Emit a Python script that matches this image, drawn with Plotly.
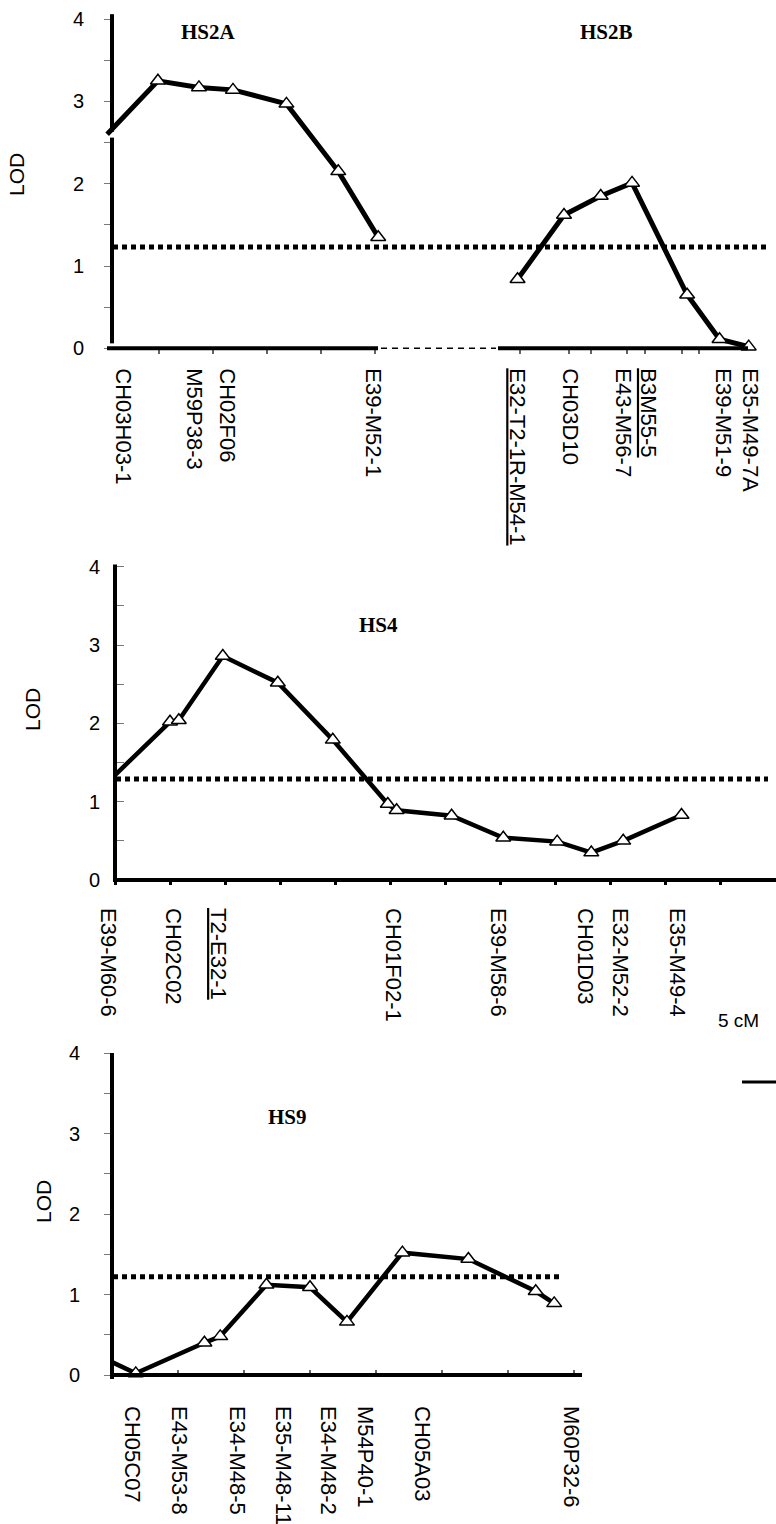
import plotly.graph_objects as go

W, H = 776, 1524

# ---------------- data (positions in cM, LOD scores) ----------------
# Top panel: HS2A and HS2B
hs2a_pos = [0.2, 4.9, 8.7, 11.85, 16.8, 21.6, 25.3]
hs2a_lod = [2.60, 3.25, 3.17, 3.14, 2.97, 2.15, 1.35]
hs2b_pos = [38.2, 42.5, 45.9, 48.8, 53.9, 56.9, 59.6]
hs2b_lod = [0.84, 1.62, 1.85, 2.01, 0.65, 0.11, 0.02]
top_marker_pos = [1.7, 8.3, 11.3, 24.8, 38.2, 43.1, 48.0, 50.3, 57.2, 59.7]
top_marker_names = ["CH03H03-1", "M59P38-3", "CH02F06", "E39-M52-1",
                    "E32-T2-1R-M54-1", "CH03D10", "E43-M56-7", "B3M55-5",
                    "E39-M51-9", "E35-M49-7A"]
top_threshold = 1.23

# Middle panel: HS4
hs4_pos = [0.0, 5.0, 5.8, 9.8, 14.8, 19.8, 24.8, 25.6, 30.6, 35.3, 40.2, 43.3, 46.2, 51.5]
hs4_lod = [1.34, 2.02, 2.04, 2.86, 2.52, 1.79, 0.97, 0.89, 0.82, 0.54, 0.49, 0.35, 0.50, 0.83]
mid_marker_pos = [-0.6, 5.3, 9.4, 25.3, 34.8, 42.7, 45.9, 51.1]
mid_marker_names = ["E39-M60-6", "CH02C02", "T2-E32-1", "CH01F02-1",
                    "E39-M58-6", "CH01D03", "E32-M52-2", "E35-M49-4"]
mid_threshold = 1.29

# Bottom panel: HS9
hs9_pos = [0.0, 1.8, 7.0, 8.2, 11.7, 15.0, 17.8, 22.0, 27.0, 32.1, 33.5]
hs9_lod = [0.16, 0.02, 0.40, 0.48, 1.12, 1.09, 0.66, 1.52, 1.44, 1.04, 0.89]
bot_marker_pos = [1.5, 5.1, 9.5, 13.0, 16.4, 19.2, 23.5, 34.8]
bot_marker_names = ["CH05C07", "E43-M53-8", "E34-M48-5", "E35-M48-11",
                    "E34-M48-2", "M54P40-1", "CH05A03", "M60P32-6"]
bot_threshold = 1.22

underlined = ["E32-T2-1R-M54-1", "B3M55-5", "T2-E32-1"]
lod_ticks = [0, 1, 2, 3, 4]

# ---------------- layout geometry (pixels) ----------------
panels = {
    "top": dict(x0px=105, s=10.8, y0px=348.3, ppu=82.3, rows=(5, 362), yax_px=112,
                lab_off=19, ylab_stand=16, yticks="outside", xticks="outside"),
    "mid": dict(x0px=115, s=11.0, y0px=880, ppu=78.3, rows=(548, 897), yax_px=115,
                lab_off=27, ylab_stand=15, yticks="inside", xticks="outside"),
    "bot": dict(x0px=112, s=13.2, y0px=1375, ppu=80.5, rows=(1040, 1392), yax_px=112,
                lab_off=30, ylab_stand=20, yticks="outside", xticks="inside"),
}

SANS = "Liberation Sans, Arial, sans-serif"
SERIF = "Liberation Serif, Times New Roman, serif"


def px2x(p):
    return p / W


def px2y(p):
    return 1 - p / H


def fmt(name):
    if name in underlined:
        return '<span style="text-decoration:underline">' + name + '</span>'
    return name


fig = go.Figure()

axis_ids = {"top": ("x", "y", "", ""), "mid": ("x2", "y2", "2", "2"), "bot": ("x3", "y3", "3", "3")}

# (positions, lods, index of first point drawn with a marker)
curves = {
    "top": [(hs2a_pos, hs2a_lod, 1), (hs2b_pos, hs2b_lod, 0)],
    "mid": [(hs4_pos, hs4_lod, 1)],
    "bot": [(hs9_pos, hs9_lod, 1)],
}
labels = {
    "top": (top_marker_pos, top_marker_names),
    "mid": (mid_marker_pos, mid_marker_names),
    "bot": (bot_marker_pos, bot_marker_names),
}
minor_x = {
    "top": [5, 10, 15, 20, 25, 38.4, 43, 45, 48.3, 50, 53.4, 55],
    "mid": [0, 5, 10, 15, 20, 25, 30, 35, 40, 45, 50, 55],
    "bot": [5, 10, 15, 20, 25, 30, 35],
}
line_w = {"top": 5, "mid": 4.5, "bot": 4.5}

shapes = []
layout_axes = {}

for key, g in panels.items():
    xa, ya, xs, ys = axis_ids[key]
    r0, r1 = g["rows"]
    xr = [(0 - g["x0px"]) / g["s"], (W - g["x0px"]) / g["s"]]
    yr = [(g["y0px"] - r1) / g["ppu"], (g["y0px"] - r0) / g["ppu"]]
    for pos, lod, first in curves[key]:
        fig.add_trace(go.Scatter(x=pos, y=lod, xaxis=xa, yaxis=ya, mode="lines",
                                 line=dict(color="black", width=line_w[key]),
                                 showlegend=False, hoverinfo="skip"))
        fig.add_trace(go.Scatter(x=pos[first:], y=lod[first:], xaxis=xa, yaxis=ya, mode="markers",
                                 marker=dict(symbol="triangle-up", size=13, color="white",
                                             line=dict(color="black", width=1.5)),
                                 cliponaxis=False, showlegend=False))
    pos, names = labels[key]
    layout_axes["xaxis" + xs] = dict(
        domain=[0, 1], range=xr, anchor="free", position=px2y(g["y0px"]),
        showgrid=False, zeroline=False, showline=False,
        tickmode="array", tickvals=pos, ticktext=[fmt(n) for n in names],
        ticks="", ticklen=0, tickangle=90, ticklabelstandoff=g["lab_off"],
        tickfont=dict(family=SANS, size=22, color="black"),
        minor=dict(tickmode="array", tickvals=minor_x[key], ticks=g["xticks"],
                   ticklen=5 if key != "mid" else 4, tickwidth=1.5 if key != "mid" else 3,
                   tickcolor="#666" if key != "mid" else "black", showgrid=False),
        automargin=False, fixedrange=True,
    )
    layout_axes["yaxis" + ys] = dict(
        domain=[px2y(r1), px2y(r0)], range=yr, anchor="free", position=px2x(g["yax_px"]),
        side="left", showgrid=False, zeroline=False, showline=False,
        tickmode="array", tickvals=lod_ticks, ticks=g["yticks"], ticklen=8,
        tickwidth=1, tickcolor="#777", ticklabelstandoff=g["ylab_stand"],
        tickfont=dict(family=SANS, size=20, color="black"),
        minor=dict(tickmode="array", tickvals=[0.5, 1.5, 2.5, 3.5], ticks=g["yticks"],
                   ticklen=8, tickwidth=1, tickcolor="#777", showgrid=False),
        automargin=False, fixedrange=True,
    )

blk = "black"
# Ruler (x axis) lines
shapes += [
    dict(type="line", xref="paper", yref="y", x0=px2x(107), x1=px2x(378), y0=0, y1=0,
         line=dict(color=blk, width=4)),
    dict(type="line", xref="paper", yref="y", x0=px2x(381), x1=px2x(496), y0=0, y1=0,
         line=dict(color=blk, width=1.5, dash="6px,5px")),
    dict(type="line", xref="paper", yref="y", x0=px2x(498), x1=px2x(748), y0=0, y1=0,
         line=dict(color=blk, width=4)),
    dict(type="line", xref="paper", yref="y2", x0=px2x(113), x1=px2x(776), y0=0, y1=0,
         line=dict(color=blk, width=4)),
    dict(type="line", xref="paper", yref="y3", x0=px2x(110), x1=px2x(582), y0=0, y1=0,
         line=dict(color=blk, width=4)),
]
# Vertical LOD axis lines
shapes += [
    dict(type="line", xref="paper", yref="y", x0=px2x(112), x1=px2x(112), y0=4.06, y1=2.63,
         line=dict(color=blk, width=4)),
    dict(type="line", xref="paper", yref="y", x0=px2x(112), x1=px2x(112), y0=2.56, y1=0.06,
         line=dict(color=blk, width=4)),
    dict(type="line", xref="paper", yref="y2", x0=px2x(115), x1=px2x(115), y0=4.03, y1=-0.02,
         line=dict(color=blk, width=4)),
    dict(type="line", xref="paper", yref="y3", x0=px2x(112), x1=px2x(112), y0=4.0, y1=-0.05,
         line=dict(color=blk, width=4)),
]
# Significance thresholds (dotted)
shapes += [
    dict(type="line", xref="paper", yref="y", x0=px2x(113), x1=px2x(767),
         y0=top_threshold, y1=top_threshold, line=dict(color=blk, width=5, dash="5px,4px")),
    dict(type="line", xref="paper", yref="y2", x0=px2x(116), x1=px2x(768),
         y0=mid_threshold, y1=mid_threshold, line=dict(color=blk, width=5, dash="5px,4px")),
    dict(type="line", xref="paper", yref="y3", x0=px2x(113), x1=px2x(561),
         y0=bot_threshold, y1=bot_threshold, line=dict(color=blk, width=5, dash="5px,4px")),
]
# 5 cM scale bar
shapes.append(dict(type="line", xref="paper", yref="paper", x0=px2x(742), x1=px2x(776),
                   y0=px2y(1082), y1=px2y(1082), line=dict(color=blk, width=3)))

ann = []
for txt, x, y in [("HS2A", 208, 32), ("HS2B", 606, 32), ("HS4", 378, 625), ("HS9", 287, 1117)]:
    ann.append(dict(text="<b>" + txt + "</b>", x=px2x(x), y=px2y(y), xref="paper", yref="paper",
                    showarrow=False, xanchor="center", yanchor="middle",
                    font=dict(family=SERIF, size=21, color="black")))
for x, y in [(17, 175), (32, 710), (43, 1202)]:
    ann.append(dict(text="LOD", x=px2x(x), y=px2y(y), xref="paper", yref="paper",
                    showarrow=False, xanchor="center", yanchor="middle", textangle=-90,
                    font=dict(family=SANS, size=21, color="black")))
ann.append(dict(text="5 cM", x=px2x(738), y=px2y(1020), xref="paper", yref="paper",
                showarrow=False, xanchor="center", yanchor="middle",
                font=dict(family=SANS, size=19, color="black")))

fig.update_layout(
    width=W, height=H, margin=dict(l=0, r=0, t=0, b=0),
    paper_bgcolor="white", plot_bgcolor="rgba(0,0,0,0)",
    showlegend=False, shapes=shapes, annotations=ann, **layout_axes,
)

fig.write_html("out.html", config={"displayModeBar": False},
               post_script="document.body.style.margin='0';document.body.style.overflow='hidden';")
